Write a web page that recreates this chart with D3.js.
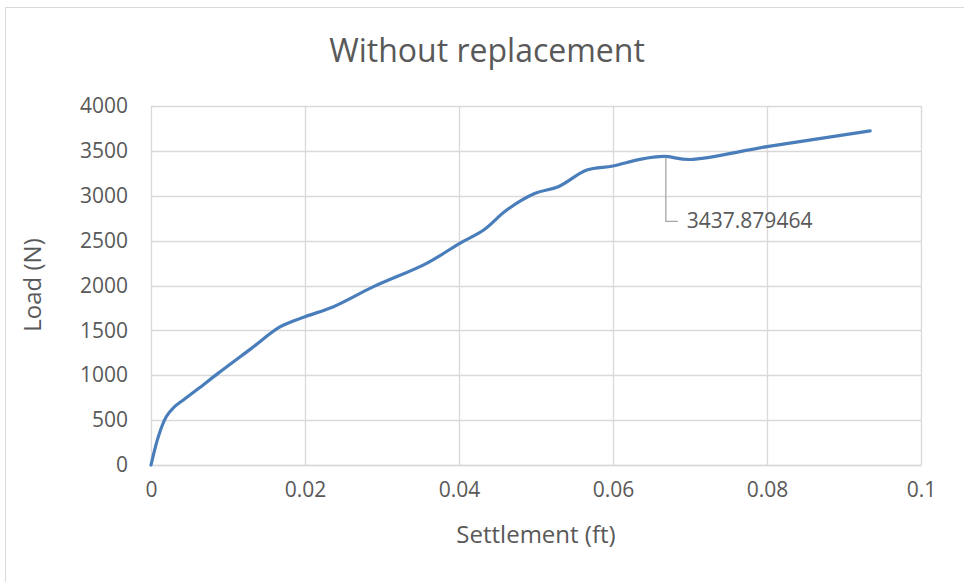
<!DOCTYPE html>
<html>
<head>
<meta charset="utf-8">
<script src="https://cdn.jsdelivr.net/npm/d3@7"></script>
<style>
  html, body { margin: 0; padding: 0; background: #fff; }
  svg { display: block; }
  text { font-family: "Open Sans", "Noto Sans", sans-serif; fill: #595959; }
</style>
</head>
<body>
<svg id="chart" width="964" height="582"></svg>
<script>
// Load–settlement readings
const settlement = [0, 0.0010, 0.0020, 0.0030, 0.0042, 0.0062, 0.0087, 0.0130, 0.0168, 0.0200,
  0.0237, 0.0289, 0.0358, 0.0401, 0.0432, 0.0462, 0.0499, 0.0529, 0.0566, 0.0600,
  0.0635, 0.0666, 0.0700, 0.0800, 0.0934];
const load = [0, 330, 540, 645, 725, 854, 1021, 1297, 1541, 1652,
  1764, 1987, 2247, 2470, 2618, 2841, 3027, 3101, 3287, 3331,
  3406, 3437.879464, 3404, 3547, 3722];

const xTicks = [0, 0.02, 0.04, 0.06, 0.08, 0.1];
const xTickLabels = ["0", "0.02", "0.04", "0.06", "0.08", "0.1"];
const yTicks = [0, 500, 1000, 1500, 2000, 2500, 3000, 3500, 4000];

const chartTitle = "Without replacement";
const xTitle = "Settlement (ft)";
const yTitle = "Load (N)";
const labelledIndex = 21; // point carrying a data label

const svg = d3.select("#chart");
const plot = { left: 151, right: 921, top: 106, bottom: 465 };

const x = d3.scaleLinear().domain([0, 0.1]).range([plot.left, plot.right]);
const y = d3.scaleLinear().domain([0, 4000]).range([plot.bottom, plot.top]);

// chart area outline
svg.append("rect")
  .attr("x", 5.5).attr("y", 7.5)
  .attr("width", 970).attr("height", 590)
  .attr("fill", "none").attr("stroke", "#d9d9d9").attr("stroke-width", 1);

// gridlines
svg.append("g")
  .selectAll("line.h")
  .data(yTicks)
  .join("line")
  .attr("x1", plot.left).attr("x2", plot.right)
  .attr("y1", d => Math.round(y(d)) + 0.5).attr("y2", d => Math.round(y(d)) + 0.5)
  .attr("stroke", "#d9d9d9").attr("stroke-width", 1.3);

svg.append("g")
  .selectAll("line.v")
  .data(xTicks)
  .join("line")
  .attr("y1", plot.top).attr("y2", plot.bottom)
  .attr("x1", d => Math.round(x(d)) + 0.5).attr("x2", d => Math.round(x(d)) + 0.5)
  .attr("stroke", "#d9d9d9").attr("stroke-width", 1.3);

// axes
const yAxis = d3.axisLeft(y).tickValues(yTicks).tickSize(0).tickPadding(23).tickFormat(d3.format("d"));
const gy = svg.append("g").attr("transform", `translate(${plot.left},0)`).call(yAxis);
gy.select(".domain").remove();
gy.selectAll("text").attr("font-size", 21).style("font-family", "'Open Sans', sans-serif").attr("fill", "#595959");

const xAxis = d3.axisBottom(x).tickValues(xTicks).tickSize(0).tickPadding(17)
  .tickFormat((d, i) => xTickLabels[i]);
const gx = svg.append("g").attr("transform", `translate(0,${plot.bottom})`).call(xAxis);
gx.select(".domain").attr("stroke", "#d9d9d9").attr("stroke-width", 1.3);
gx.selectAll("text").attr("font-size", 21).style("font-family", "'Open Sans', sans-serif").attr("fill", "#595959");

// titles
svg.append("text")
  .attr("x", 487).attr("y", 62)
  .attr("text-anchor", "middle").attr("font-size", 32)
  .text(chartTitle);

svg.append("text")
  .attr("x", 536).attr("y", 543)
  .attr("text-anchor", "middle").attr("font-size", 24)
  .text(xTitle);

svg.append("text")
  .attr("transform", "translate(41,285) rotate(-90)")
  .attr("text-anchor", "middle").attr("font-size", 24)
  .text(yTitle);

// series line
const pts = settlement.map((s, i) => [s, load[i]]);
const line = d3.line()
  .x(d => x(d[0]))
  .y(d => y(d[1]))
  .curve(d3.curveCatmullRom.alpha(0.5));

svg.append("path")
  .datum(pts)
  .attr("d", line)
  .attr("fill", "none")
  .attr("stroke", "#4a7ebb")
  .attr("stroke-width", 3.2)
  .attr("stroke-linejoin", "round")
  .attr("stroke-linecap", "round");

// data label with leader line
const lx = x(settlement[labelledIndex]);
const ly = y(load[labelledIndex]);
svg.append("path")
  .attr("d", `M${lx + 2},${ly + 1} V${ly + 65} H${lx + 14}`)
  .attr("fill", "none").attr("stroke", "#a6a6a6").attr("stroke-width", 1.3);

svg.append("text")
  .attr("x", lx + 23).attr("y", ly + 72)
  .attr("font-size", 21)
  .text(String(load[labelledIndex]));
</script>
</body>
</html>
